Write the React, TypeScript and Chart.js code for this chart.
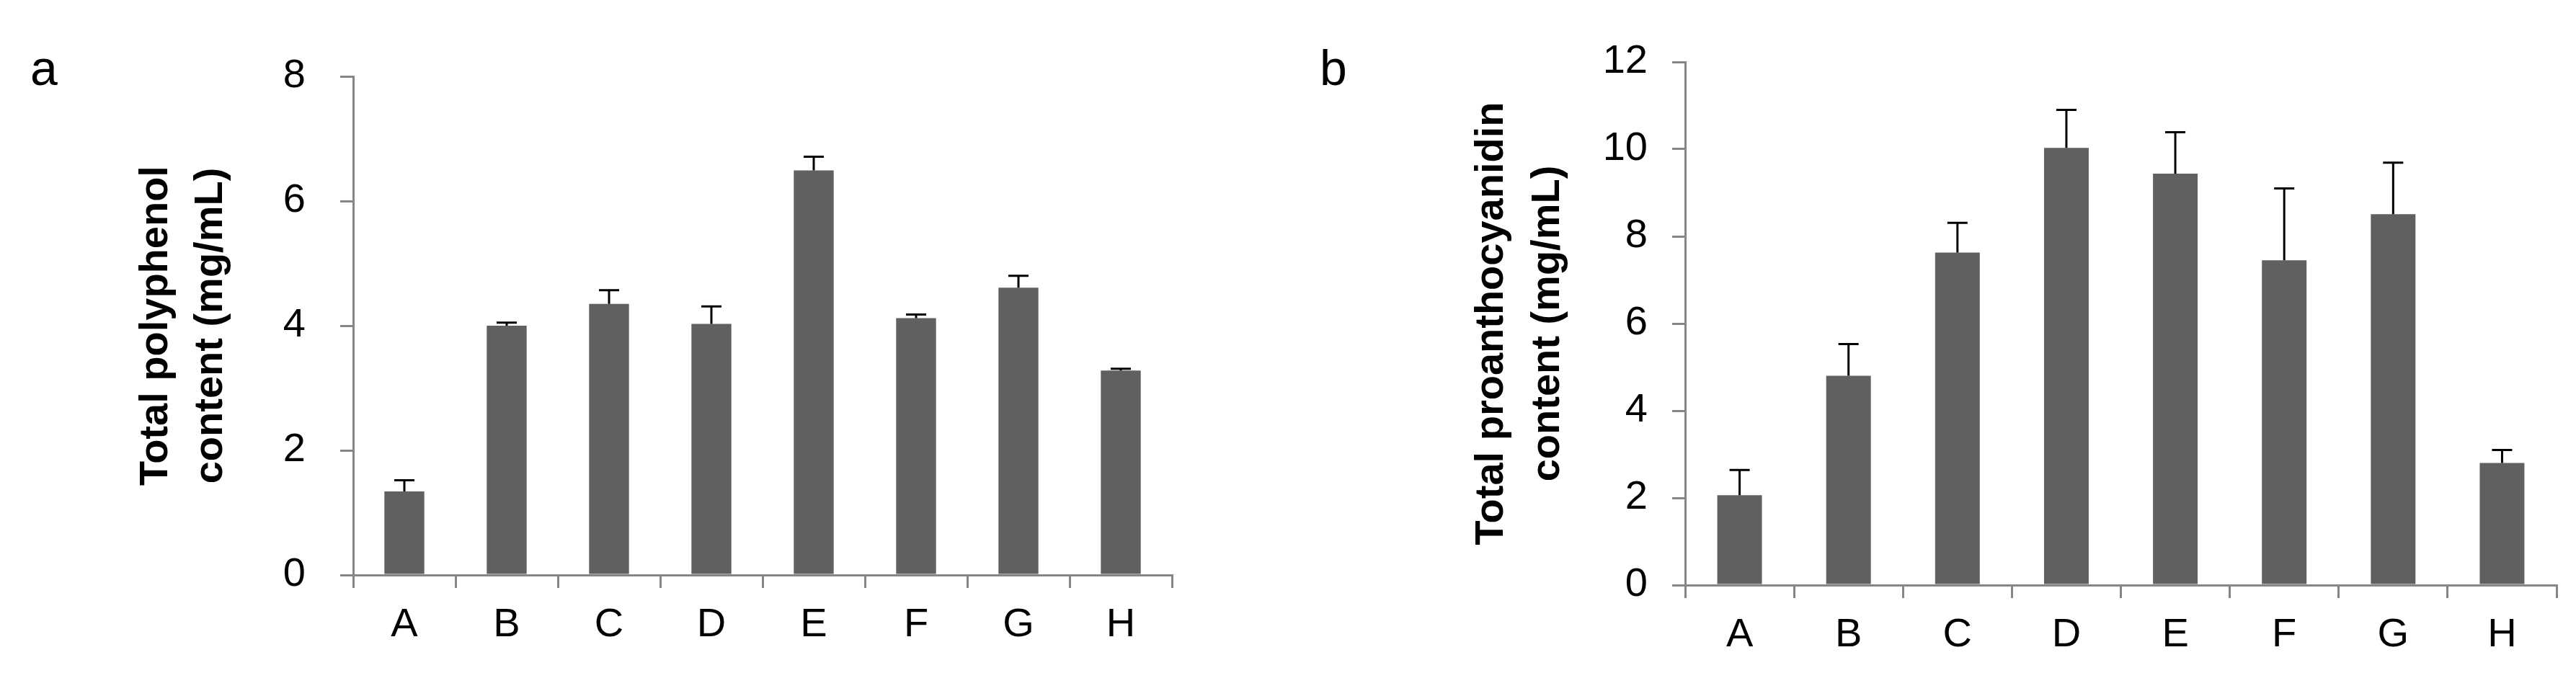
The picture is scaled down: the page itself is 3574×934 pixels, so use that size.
import React, { useEffect, useRef } from "react";
import { Chart, registerables } from "chart.js";

Chart.register(...registerables);

// ---------- data ----------
const categories = ["A", "B", "C", "D", "E", "F", "G", "H"];

const polyphenolValues = [1.34, 4.0, 4.35, 4.03, 6.49, 4.12, 4.61, 3.28];
const polyphenolErrors = [0.18, 0.05, 0.22, 0.28, 0.22, 0.06, 0.19, 0.03];

const proanthocyanidinValues = [2.06, 4.8, 7.63, 10.03, 9.44, 7.45, 8.51, 2.8];
const proanthocyanidinErrors = [0.58, 0.73, 0.68, 0.87, 0.95, 1.65, 1.18, 0.3];

const polyphenolTitle = ["Total polyphenol", "content (mg/mL)"];
const proanthocyanidinTitle = ["Total proanthocyanidin", "content (mg/mL)"];

const polyphenolTicksMax = 8;
const proanthocyanidinTicksMax = 12;
const tickStep = 2;

// ---------- styling ----------
const FONT = '"Liberation Sans", Arial, Helvetica, sans-serif';
const BAR_COLOR = "#606060";
const AXIS_COLOR = "#868686";

const errorBarPlugin = {
  id: "errorBars",
  afterDatasetsDraw(chart: any) {
    const ds: any = chart.data.datasets[0];
    const errs: number[] = ds.errors || [];
    const meta = chart.getDatasetMeta(0);
    const yScale = chart.scales.y;
    const ctx = chart.ctx;
    ctx.save();
    ctx.strokeStyle = "#000000";
    ctx.lineWidth = 3;
    meta.data.forEach((bar: any, i: number) => {
      const v = ds.data[i] as number;
      const e = errs[i] || 0;
      const yBar = yScale.getPixelForValue(v);
      const yTop = yScale.getPixelForValue(v + e);
      ctx.beginPath();
      ctx.moveTo(bar.x, yBar);
      ctx.lineTo(bar.x, yTop);
      ctx.moveTo(bar.x - 14, yTop);
      ctx.lineTo(bar.x + 14, yTop);
      ctx.stroke();
    });
    ctx.restore();
  },
};

type PanelProps = {
  left: number;
  width: number;
  height: number;
  values: number[];
  errors: number[];
  title: string[];
  yMax: number;
  yAxisWidth: number;
  xAxisHeight: number;
  padTop: number;
  padRight: number;
  yTickPad: number;
  titlePad: number;
  titleLine: number;
  barPct: number;
};

function BarPanel(p: PanelProps) {
  const ref = useRef<HTMLCanvasElement | null>(null);
  useEffect(() => {
    if (!ref.current) return;
    const chart = new Chart(ref.current, {
      type: "bar",
      data: {
        labels: categories,
        datasets: [
          {
            data: p.values,
            backgroundColor: BAR_COLOR,
            borderWidth: 0,
            barPercentage: p.barPct,
            categoryPercentage: 1,
            errors: p.errors,
          } as any,
        ],
      },
      options: {
        animation: false,
        responsive: false,
        maintainAspectRatio: false,
        layout: {
          padding: { left: 0, right: p.padRight, top: p.padTop, bottom: 0 },
        },
        plugins: {
          legend: { display: false },
          tooltip: { enabled: false },
        },
        scales: {
          x: {
            grid: {
              display: true,
              drawOnChartArea: false,
              drawTicks: true,
              tickLength: 18,
              color: AXIS_COLOR,
              lineWidth: 3,
              offset: true,
            },
            border: { display: true, color: AXIS_COLOR, width: 3 },
            ticks: {
              color: "#000000",
              font: { family: FONT, size: 56 },
              padding: 18,
              maxRotation: 0,
              autoSkip: false,
            },
            afterFit: (s: any) => {
              s.height = p.xAxisHeight;
            },
          },
          y: {
            min: 0,
            max: p.yMax,
            ticks: {
              stepSize: tickStep,
              color: "#000000",
              font: { family: FONT, size: 56 },
              padding: p.yTickPad,
            },
            grid: {
              drawOnChartArea: false,
              drawTicks: true,
              tickLength: 18,
              color: AXIS_COLOR,
              lineWidth: 3,
            },
            border: { display: true, color: AXIS_COLOR, width: 3 },
            title: {
              display: true,
              text: p.title,
              color: "#000000",
              font: {
                family: FONT,
                size: 56,
                weight: "bold",
                lineHeight: p.titleLine + "px",
              },
              padding: { top: p.titlePad, bottom: 0 },
            },
            afterFit: (s: any) => {
              s.width = p.yAxisWidth;
            },
          },
        },
      } as any,
      plugins: [errorBarPlugin],
    });
    return () => chart.destroy();
  }, []);
  return (
    <canvas
      ref={ref}
      width={p.width}
      height={p.height}
      style={{
        position: "absolute",
        left: p.left,
        top: 0,
        width: p.width,
        height: p.height,
      }}
    />
  );
}

const panelLabelStyle: React.CSSProperties = {
  position: "absolute",
  fontFamily: FONT,
  fontSize: 68,
  lineHeight: "68px",
  color: "#000",
};

export default function App() {
  return (
    <div
      style={{
        position: "absolute",
        left: 0,
        top: 0,
        width: 3574,
        height: 934,
        background: "#ffffff",
        overflow: "hidden",
      }}
    >
      <BarPanel
        left={0}
        width={1700}
        height={934}
        values={polyphenolValues}
        errors={polyphenolErrors}
        title={polyphenolTitle}
        yMax={polyphenolTicksMax}
        yAxisWidth={490}
        xAxisHeight={136}
        padTop={106}
        padRight={74}
        yTickPad={48}
        titlePad={179}
        titleLine={76}
        barPct={0.39}
      />
      <BarPanel
        left={1700}
        width={1874}
        height={934}
        values={proanthocyanidinValues}
        errors={proanthocyanidinErrors}
        title={proanthocyanidinTitle}
        yMax={proanthocyanidinTicksMax}
        yAxisWidth={638}
        xAxisHeight={122}
        padTop={86}
        padRight={27}
        yTickPad={34}
        titlePad={331}
        titleLine={78}
        barPct={0.41}
      />
      <div style={{ ...panelLabelStyle, left: 42, top: 60 }}>a</div>
      <div style={{ ...panelLabelStyle, left: 1831, top: 60 }}>b</div>
    </div>
  );
}
